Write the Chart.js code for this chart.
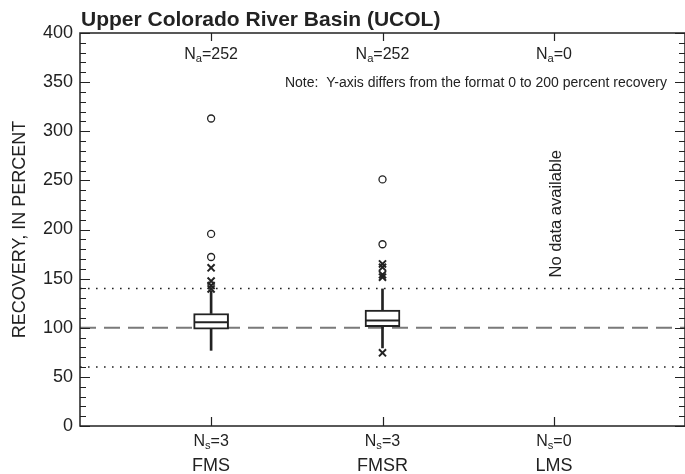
<!DOCTYPE html>
<html>
<head>
<meta charset="utf-8">
<script src="https://cdn.jsdelivr.net/npm/chart.js@4.4.0/dist/chart.umd.min.js"></script>
<style>
  html, body { margin: 0; padding: 0; background: #fff; }
  #wrap { width: 685px; height: 474px; }
</style>
</head>
<body>
<div id="wrap"><canvas id="recoveryChart" width="685" height="474"></canvas></div>
<script>
const categories = ['FMS', 'FMSR', 'LMS'];
const nAnalyses = [252, 252, 0];
const nSites = [3, 3, 0];

// box statistics, percent recovery (LMS has no data)
const q1 = [98.5, 101, null];
const median = [105.5, 107.5, null];
const q3 = [114.5, 118, null];
const whiskerLow = [77, 79.5, null];
const whiskerHigh = [137.5, 139.5, null];

// outside values (x) and far-outside values (o), per category
const outsideValues = [[161, 147.5, 143, 139.5], [165, 161.5, 154, 151.5, 74.5], []];
const farOutsideValues = [[313, 195.5, 172], [251, 185], []];

const centerLine = 100;
const controlLimits = [60, 140];

const yMin = 0, yMax = 400, yStep = 50, yMinorStep = 10;
const xMin = 0.235, xMax = 3.765;

const ink = '#222';
const font = 'Liberation Sans, Arial, Helvetica, sans-serif';
Chart.defaults.font.family = font;
Chart.defaults.color = ink;

const hasBox = i => q1[i] !== null;
const boxes = [], whiskers = [], medians = [], crosses = [], circles = [];
categories.forEach((c, i) => {
  const x = i + 1;
  if (hasBox(i)) {
    boxes.push({x, y: [q1[i], q3[i]]});
    whiskers.push({x, y: [whiskerLow[i], q1[i]]}, {x, y: [q3[i], whiskerHigh[i]]});
    medians.push({x, y: median[i]});
  }
  outsideValues[i].forEach(v => crosses.push({x, y: v}));
  farOutsideValues[i].forEach(v => circles.push({x, y: v}));
});

const hLine = (y) => [{x: xMin, y}, {x: xMax, y}];

// frame and inward tick marks on all four sides
const framePlugin = {
  id: 'frame',
  afterDraw(chart) {
    const {ctx, chartArea: a, scales: {x, y}} = chart;
    ctx.save();
    ctx.strokeStyle = ink;
    ctx.lineWidth = 1.5;
    ctx.strokeRect(a.left, a.top, a.right - a.left, a.bottom - a.top);
    ctx.lineWidth = 1.2;
    ctx.beginPath();
    for (let v = yMin; v <= yMax; v += yMinorStep) {
      const py = Math.round(y.getPixelForValue(v)) + 0.5;
      const len = v % yStep === 0 ? 10 : 6;
      ctx.moveTo(a.left, py); ctx.lineTo(a.left + len, py);
      ctx.moveTo(a.right, py); ctx.lineTo(a.right - len, py);
    }
    categories.forEach((c, i) => {
      const px = Math.round(x.getPixelForValue(i + 1)) + 0.5;
      ctx.moveTo(px, a.top); ctx.lineTo(px, a.top + 8);
      ctx.moveTo(px, a.bottom); ctx.lineTo(px, a.bottom - 9);
    });
    ctx.stroke();
    ctx.restore();
  }
};

function subText(ctx, main, sub, rest, cx, base, size) {
  ctx.font = `${size}px ${font}`;
  const w1 = ctx.measureText(main).width;
  const w3 = ctx.measureText(rest).width;
  ctx.font = `${size * 0.7}px ${font}`;
  const w2 = ctx.measureText(sub).width;
  let x0 = cx - (w1 + w2 + w3) / 2;
  ctx.textAlign = 'left';
  ctx.font = `${size}px ${font}`;
  ctx.fillText(main, x0, base);
  ctx.font = `${size * 0.7}px ${font}`;
  ctx.fillText(sub, x0 + w1, base + 3);
  ctx.font = `${size}px ${font}`;
  ctx.fillText(rest, x0 + w1 + w2, base);
}

const labelPlugin = {
  id: 'labels',
  afterDraw(chart) {
    const {ctx, chartArea: a, scales: {x, y}} = chart;
    ctx.save();
    ctx.fillStyle = ink;
    ctx.textBaseline = 'alphabetic';

    ctx.font = `bold 21px ${font}`;
    ctx.textAlign = 'left';
    ctx.fillText('Upper Colorado River Basin (UCOL)', a.left + 1, 26);

    categories.forEach((c, i) => {
      const px = x.getPixelForValue(i + 1);
      subText(ctx, 'N', 'a', '=' + nAnalyses[i], px, 59, 16);
      subText(ctx, 'N', 's', '=' + nSites[i], px, 446, 16);
      ctx.font = `18px ${font}`;
      ctx.textAlign = 'center';
      ctx.fillText(c, px, 471);
      if (nAnalyses[i] === 0) {
        ctx.save();
        ctx.translate(px + 7, y.getPixelForValue(216));
        ctx.rotate(-Math.PI / 2);
        ctx.font = `16.5px ${font}`;
        ctx.textAlign = 'center';
        ctx.fillText('No data available', 0, 0);
        ctx.restore();
      }
    });

    ctx.font = `14px ${font}`;
    ctx.textAlign = 'right';
    ctx.fillText('Note:  Y-axis differs from the format 0 to 200 percent recovery', 667, 87);

    ctx.save();
    ctx.translate(25, (a.top + a.bottom) / 2);
    ctx.rotate(-Math.PI / 2);
    ctx.font = `18px ${font}`;
    ctx.textAlign = 'center';
    ctx.fillText('RECOVERY, IN PERCENT', 0, 0);
    ctx.restore();

    ctx.restore();
  }
};

new Chart(document.getElementById('recoveryChart'), {
  type: 'bar',
  data: {
    datasets: [
      {type: 'line', data: hLine(centerLine), borderColor: '#7a7a7a', borderWidth: 2,
       borderDash: [16, 8], pointRadius: 0, order: 10},
      ...controlLimits.map(v => ({type: 'line', data: hLine(v), borderColor: ink, borderWidth: 1.6,
       borderDash: [1.6, 6.4], pointRadius: 0, order: 10})),
      {data: whiskers, backgroundColor: ink, borderWidth: 0, barThickness: 2, grouped: false, order: 5},
      {data: boxes, backgroundColor: '#fff', borderColor: ink, borderWidth: 2, borderSkipped: false,
       barThickness: 35, grouped: false, order: 4},
      {type: 'scatter', data: medians, pointStyle: 'line', pointRadius: 16.5, pointBorderWidth: 2,
       pointBorderColor: ink, order: 3},
      {type: 'scatter', data: crosses, pointStyle: 'crossRot', pointRadius: 5, pointBorderWidth: 2,
       pointBorderColor: ink, order: 2},
      {type: 'scatter', data: circles, pointStyle: 'circle', pointRadius: 3.5, pointBorderWidth: 1.3,
       pointBorderColor: ink, pointBackgroundColor: '#fff', order: 1}
    ]
  },
  options: {
    responsive: false,
    animation: false,
    layout: {autoPadding: false, padding: {top: 33, right: 0, bottom: 48, left: 0}},
    plugins: {legend: {display: false}, tooltip: {enabled: false}},
    scales: {
      x: {type: 'linear', min: xMin, max: xMax, offset: false, display: false},
      y: {
        min: yMin, max: yMax,
        ticks: {stepSize: yStep, padding: 7, color: ink, font: {size: 18}},
        grid: {display: false, drawTicks: false},
        border: {display: false},
        afterFit(scale) { scale.width = 80; }
      }
    }
  },
  plugins: [framePlugin, labelPlugin]
});
</script>
</body>
</html>
